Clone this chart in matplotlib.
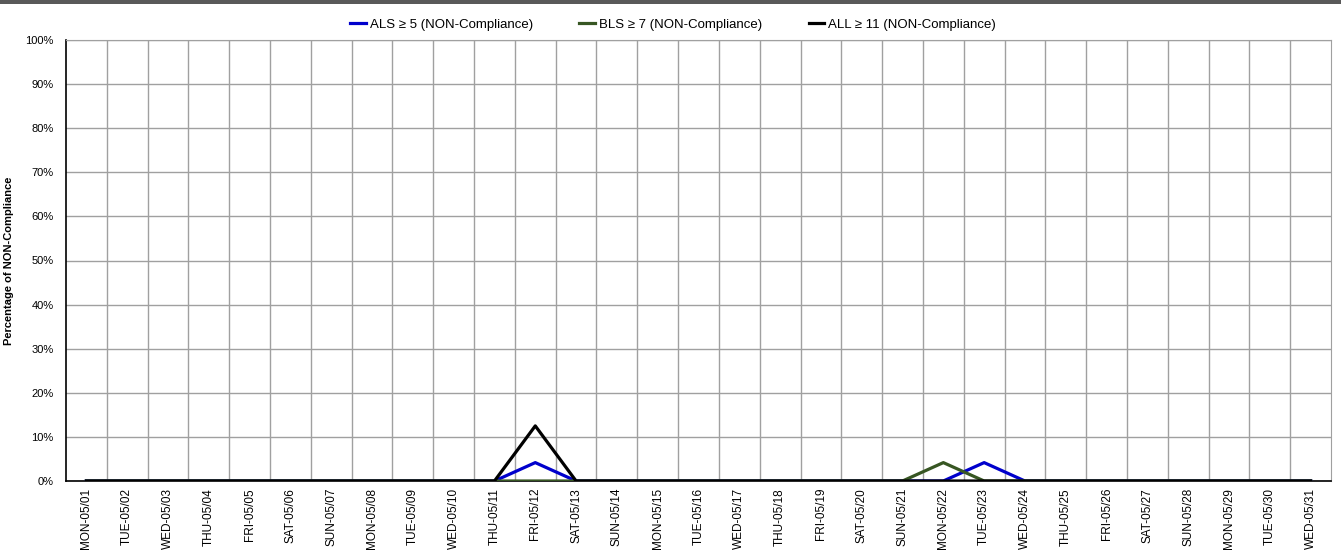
import matplotlib
matplotlib.use("Agg")
import matplotlib.pyplot as plt
from matplotlib.ticker import FixedLocator, PercentFormatter

# Days of May and the non-compliance share (percent) for each series
days = ["MON-05/01", "TUE-05/02", "WED-05/03", "THU-05/04", "FRI-05/05", "SAT-05/06",
        "SUN-05/07", "MON-05/08", "TUE-05/09", "WED-05/10", "THU-05/11", "FRI-05/12",
        "SAT-05/13", "SUN-05/14", "MON-05/15", "TUE-05/16", "WED-05/17", "THU-05/18",
        "FRI-05/19", "SAT-05/20", "SUN-05/21", "MON-05/22", "TUE-05/23", "WED-05/24",
        "THU-05/25", "FRI-05/26", "SAT-05/27", "SUN-05/28", "MON-05/29", "TUE-05/30",
        "WED-05/31"]
als = [0, 0, 0, 0, 0, 0, 0, 0, 0, 0, 0, 4.17, 0, 0, 0, 0, 0, 0, 0, 0,
       0, 0, 4.17, 0, 0, 0, 0, 0, 0, 0, 0]
bls = [0, 0, 0, 0, 0, 0, 0, 0, 0, 0, 0, 0, 0, 0, 0, 0, 0, 0, 0, 0,
       0, 4.17, 0, 0, 0, 0, 0, 0, 0, 0, 0]
all_ = [0, 0, 0, 0, 0, 0, 0, 0, 0, 0, 0, 12.5, 0, 0, 0, 0, 0, 0, 0, 0,
        0, 0, 0, 0, 0, 0, 0, 0, 0, 0, 0]

FONT = ["Liberation Sans Narrow", "Liberation Sans", "DejaVu Sans"]
plt.rcParams["font.family"] = FONT

fig = plt.figure(figsize=(13.41, 5.56), dpi=100)
ax = fig.add_axes([66 / 1341, 1 - 481 / 556, 1265 / 1341, 441 / 556])

# dark strip across the very top
fig.patches.append(plt.Rectangle((0, 1 - 4 / 556), 1, 4 / 556, transform=fig.transFigure,
                                 facecolor="#595959", edgecolor="none"))

x = list(range(len(days)))
ax.plot(x, als, color="#0000cc", lw=2.3, label="ALS \u2265 5 (NON-Compliance)", zorder=3)
ax.plot(x, bls, color="#375623", lw=2.3, label="BLS \u2265 7 (NON-Compliance)", zorder=4)
ax.plot(x, all_, color="black", lw=2.3, label="ALL \u2265 11 (NON-Compliance)", zorder=5)

ax.set_xlim(-0.5, len(days) - 0.5)
ax.set_ylim(0, 100)
ax.set_xticks(x)
ax.set_xticklabels(days, rotation=90, fontsize=8.5)
ax.xaxis.set_minor_locator(FixedLocator([i + 0.5 for i in range(len(days) - 1)]))
ax.tick_params(axis="x", which="both", length=0, pad=5)
ax.set_yticks(range(0, 101, 10))
ax.yaxis.set_major_formatter(PercentFormatter(decimals=0))
ax.tick_params(axis="y", length=0, labelsize=8, pad=9)

ax.grid(axis="y", which="major", color="#a0a0a0", lw=1)
ax.grid(axis="x", which="minor", color="#a0a0a0", lw=1)
ax.set_axisbelow(True)
for s in ("top", "right"):
    ax.spines[s].set_color("#a0a0a0")
ax.spines["bottom"].set_color("black")
ax.spines["bottom"].set_linewidth(1.2)
ax.spines["left"].set_color("black")
ax.spines["left"].set_linewidth(1.2)

ax.set_ylabel("Percentage of NON-Compliance", fontsize=8, fontweight="bold")
ax.yaxis.set_label_coords(-0.041, 0.5)

ax.legend(loc="lower center", bbox_to_anchor=(0.48, 1.0), ncol=3, frameon=False,
          fontsize=9.5, handlelength=1.2, handletextpad=0.3, columnspacing=3.5,
          borderaxespad=0.3)

fig.savefig("out.png", dpi=100, facecolor="white")
